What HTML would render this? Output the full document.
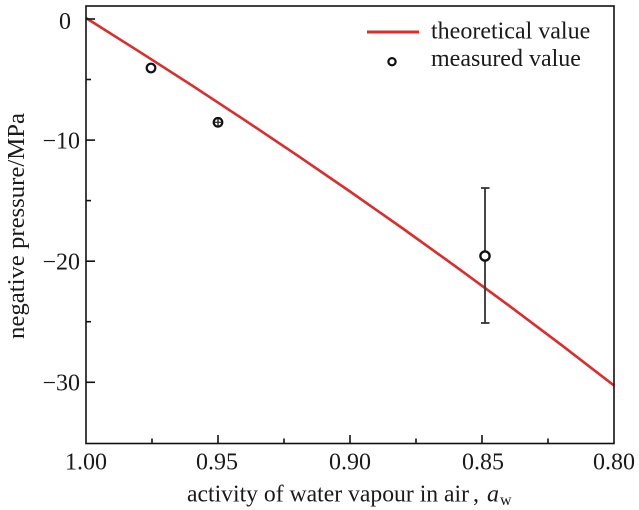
<!DOCTYPE html>
<html>
<head>
<meta charset="utf-8">
<style>
  html, body { margin: 0; padding: 0; background: #fff; }
  svg { display: block; }
  text { font-family: "Liberation Serif", "Times New Roman", serif; fill: #1a1a1a; }
</style>
</head>
<body>
<svg width="639" height="510" viewBox="0 0 639 510" xmlns="http://www.w3.org/2000/svg">
  <rect x="0" y="0" width="639" height="510" fill="#fff"/>

  <!-- theoretical curve -->
  <polyline fill="none" stroke="#dd2c2c" stroke-width="2.6" stroke-linejoin="round"
    points="86,18 138.8,51.3 191.6,85.2 244.4,119.9 297.2,155.3 350,191.5 402.8,228.5 455.6,266.4 508.4,305.2 561.2,344.8 614,385.5"/>

  <!-- frame -->
  <rect x="86" y="6" width="528" height="437.5" fill="none" stroke="#111" stroke-width="1.6"/>

  <!-- y ticks -->
  <g stroke="#111" stroke-width="1.6">
    <line x1="86" y1="19" x2="95" y2="19"/>
    <line x1="86" y1="140.1" x2="95" y2="140.1"/>
    <line x1="86" y1="261.2" x2="95" y2="261.2"/>
    <line x1="86" y1="382.3" x2="95" y2="382.3"/>
    <line x1="86" y1="79.5" x2="91" y2="79.5"/>
    <line x1="86" y1="200.6" x2="91" y2="200.6"/>
    <line x1="86" y1="321.7" x2="91" y2="321.7"/>
    <!-- x ticks -->
    <line x1="218" y1="443.5" x2="218" y2="435"/>
    <line x1="350" y1="443.5" x2="350" y2="435"/>
    <line x1="482" y1="443.5" x2="482" y2="435"/>
    <line x1="152" y1="443.5" x2="152" y2="438.5"/>
    <line x1="284" y1="443.5" x2="284" y2="438.5"/>
    <line x1="416" y1="443.5" x2="416" y2="438.5"/>
    <line x1="548" y1="443.5" x2="548" y2="438.5"/>
  </g>

  <!-- y tick labels -->
  <g font-size="24">
    <text x="71" y="29" text-anchor="end">0</text>
    <text x="80" y="148.5" text-anchor="end">−10</text>
    <text x="80" y="269.5" text-anchor="end">−20</text>
    <text x="80" y="390.5" text-anchor="end">−30</text>
  </g>

  <!-- x tick labels -->
  <g font-size="24" text-anchor="middle">
    <text x="86" y="469.5">1.00</text>
    <text x="217" y="469.5">0.95</text>
    <text x="350" y="469.5">0.90</text>
    <text x="483" y="469.5">0.85</text>
    <text x="614" y="469.5">0.80</text>
  </g>

  <!-- axis titles -->
  <text font-size="24" x="187" y="501.5" textLength="282" lengthAdjust="spacingAndGlyphs">activity of water vapour in air</text>
  <text font-size="24" x="473" y="501.5">,</text>
  <text font-size="24" x="487" y="501.5" font-style="italic">a</text>
  <text font-size="16" x="500" y="505">w</text>

  <text font-size="24" transform="translate(24,226) rotate(-90)" text-anchor="middle" textLength="226" lengthAdjust="spacingAndGlyphs">negative pressure/MPa</text>

  <!-- data points -->
  <circle cx="151" cy="68" r="4.3" fill="#fff" stroke="#111" stroke-width="2.2"/>

  <g stroke="#222" stroke-width="1.4">
    <line x1="218" y1="119" x2="218" y2="125.5"/>
  </g>
  <circle cx="218" cy="122.3" r="4.3" fill="none" stroke="#111" stroke-width="2.2"/>
  <line x1="214.5" y1="122.3" x2="221.5" y2="122.3" stroke="#333" stroke-width="1.3"/>

  <g stroke="#333" stroke-width="1.8">
    <line x1="485" y1="188" x2="485" y2="323"/>
    <line x1="481" y1="188" x2="489.5" y2="188"/>
    <line x1="481" y1="323" x2="489.5" y2="323"/>
  </g>
  <circle cx="485" cy="256" r="4.6" fill="#fff" stroke="#111" stroke-width="2.4"/>

  <!-- legend -->
  <line x1="367" y1="32" x2="419" y2="32" stroke="#dd2c2c" stroke-width="3"/>
  <text font-size="24" x="431" y="38.5">theoretical value</text>
  <circle cx="392" cy="61.7" r="3.6" fill="#fff" stroke="#111" stroke-width="2.2"/>
  <text font-size="24" x="431" y="66">measured value</text>
</svg>
</body>
</html>
